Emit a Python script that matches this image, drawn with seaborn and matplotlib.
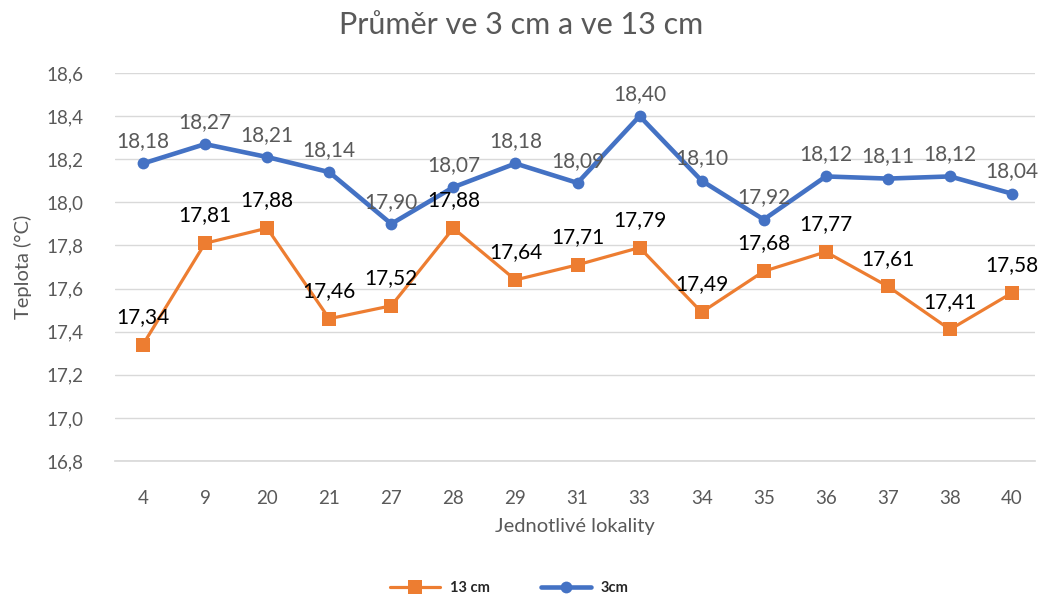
import matplotlib
matplotlib.use("Agg")
import matplotlib.pyplot as plt
import seaborn as sns
import pandas as pd

locations = ["4", "9", "20", "21", "27", "28", "29", "31", "33", "34", "35", "36", "37", "38", "40"]
temp_13cm = [17.34, 17.81, 17.88, 17.46, 17.52, 17.88, 17.64, 17.71, 17.79, 17.49, 17.68, 17.77, 17.61, 17.41, 17.58]
temp_3cm = [18.18, 18.27, 18.21, 18.14, 17.90, 18.07, 18.18, 18.09, 18.40, 18.10, 17.92, 18.12, 18.11, 18.12, 18.04]
y_ticks = [16.8, 17.0, 17.2, 17.4, 17.6, 17.8, 18.0, 18.2, 18.4, 18.6]

sns.set_theme(style="white")
plt.rcParams['font.family'] = ['Lato', 'DejaVu Sans']

df = pd.DataFrame({"loc": locations, "t13": temp_13cm, "t3": temp_3cm})

fig = plt.figure(figsize=(10.42, 5.99), dpi=100)
ax = fig.add_axes([0.1104, 0.2304, 0.8829, 0.6478])

orange = "#ED7D31"
blue = "#4472C4"
gray = "#595959"

sns.lineplot(data=df, x="loc", y="t13", ax=ax, color=orange, lw=2.3, marker="s",
             markersize=10, markeredgewidth=0, label="13 cm", sort=False, zorder=3)
sns.lineplot(data=df, x="loc", y="t3", ax=ax, color=blue, lw=3.3, marker="o",
             markersize=8.5, markeredgewidth=0, label="3cm", sort=False, zorder=4)

for i, v in enumerate(temp_3cm):
    ax.annotate(f"{v:.2f}".replace(".", ","), (i, v), xytext=(0, 16), textcoords="offset points",
                ha="center", va="center", fontsize=15, color=gray, zorder=5)
for i, v in enumerate(temp_13cm):
    ax.annotate(f"{v:.2f}".replace(".", ","), (i, v), xytext=(0, 20), textcoords="offset points",
                ha="center", va="center", fontsize=15, color="black", zorder=5)

ax.set_xlim(-0.45, 14.37)
ax.set_ylim(16.8, 18.6)
ax.set_yticks(y_ticks)
ax.set_yticklabels([f"{t:.1f}".replace(".", ",") for t in y_ticks])
ax.yaxis.grid(True, color="#D9D9D9", lw=1.0)
ax.xaxis.grid(False)
for s in ["top", "right", "left"]:
    ax.spines[s].set_visible(False)
ax.spines["bottom"].set_color("#D9D9D9")
ax.tick_params(axis="both", colors=gray, labelsize=13.5, length=0)
ax.tick_params(axis="x", pad=21)
ax.tick_params(axis="y", pad=23)

ax.set_xlabel("Jednotlivé lokality", fontsize=14.5, color=gray, labelpad=8)
ax.set_ylabel("Teplota (°C)", fontsize=14.5, color=gray, labelpad=10)
fig.suptitle("Průměr ve 3 cm a ve 13 cm", fontsize=22, color=gray, y=0.958, va="center")

ax.get_legend().remove()
h, l = ax.get_legend_handles_labels()
leg = fig.legend(h, l, loc="center", bbox_to_anchor=(0.489, 0.018), ncol=2, frameon=False,
                 prop={"weight": "bold", "size": 10.5}, handlelength=3.4, columnspacing=3.5,
                 handletextpad=0.7)
for t in leg.get_texts():
    t.set_color("#262626")

fig.savefig("out.png", dpi=100)
